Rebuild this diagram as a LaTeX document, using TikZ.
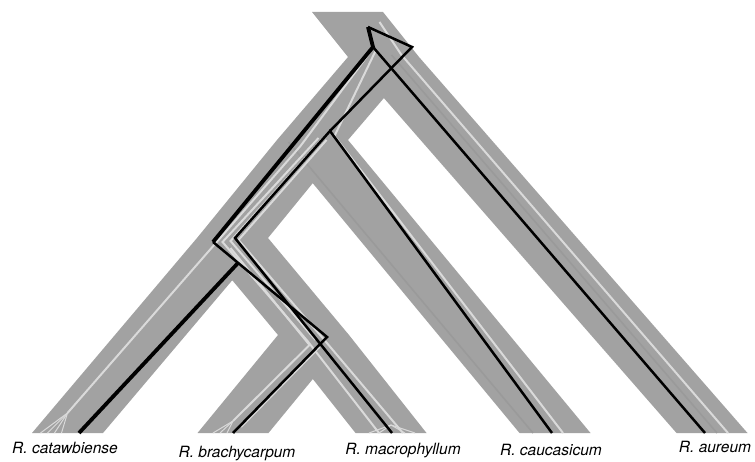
\documentclass[tikz,border=0pt]{standalone}
\usepackage{fontspec}
\newfontfamily\taxfont{TeX Gyre Heros}
\usetikzlibrary{calc}
\definecolor{bandgray}{HTML}{A2A2A2}
\definecolor{ghostgray}{HTML}{DADADA}
\definecolor{ghostdark}{HTML}{9A9A9A}

\begin{document}
\begin{tikzpicture}[x=1pt, y=-1pt,
  band/.style={fill=bandgray},
  ghost/.style={draw=ghostgray, line width=2pt},
  ghostfan/.style={draw=ghostgray, line width=1pt},
  shade/.style={draw=ghostdark, line width=1.6pt},
  gene/.style={draw=black, line width=2.5pt},
  genethick/.style={draw=black, line width=3.8pt},
  taxon/.style={font=\taxfont\itshape\fontsize{15.5}{18}\selectfont, anchor=base, inner sep=0pt}]
  \useasboundingbox (0,0) rectangle (755,462);

  % species tree nodes
  \coordinate (top) at (347.5,12);
  \coordinate (rt) at (383.5,57);
  \coordinate (nA) at (312.5,140);
  \coordinate (nB) at (232.5,238);
  \coordinate (nC) at (313.5,335);
  \coordinate (cat) at (67.5,433);
  \coordinate (bra) at (233,433);
  \coordinate (mac) at (391,433);
  \coordinate (cau) at (555,433);
  \coordinate (aur) at (712,433);

  % branches as wide bands
  \fill[band] \foreach \p/\c in {top/rt,rt/nA,rt/aur,nA/nB,nA/cau,nB/cat,nB/nC,nC/bra,nC/mac}
    { ($(\p)+(-35.5,0)$) -- ($(\p)+(35.5,0)$) -- ($(\c)+(35.5,0)$) -- ($(\c)+(-35.5,0)$) -- cycle };

  % other gene trees (faint)
  \draw[shade] ($(aur)+(5,0)$) -- ($(rt)+(8,-2)$);
  \draw[shade] ($(cau)+(-22,0)$) -- ($(nA)+(-24,2)$);
  \draw[ghost] ($(aur)+(16,0)$) -- ($(rt)+(18,-2)$) -- ($(top)+(32,10)$);
  \draw[ghost] ($(cau)+(8,0)$) -- ($(nA)+(22,-4)$) -- ($(rt)+(-8,-6)$);
  \draw[ghost] ($(cat)+(0,-20)$) -- ($(nA)+(-12,6)$) -- ($(rt)+(-14,-4)$);
  \draw[ghost] ($(nA)+(6,-2)$) -- ($(nB)+(-10,4)$) -- ($(nC)+(-6,6)$) -- ($(mac)+(-12,0)$);
  \draw[ghost] ($(nA)+(14,0)$) -- ($(nB)+(6,2)$) -- ($(nC)+(10,4)$) -- ($(mac)+(12,0)$);
  \draw[ghost] ($(nA)+(10,-1)$) -- ($(nB)+(-2,3)$) -- ($(nC)+(2,5)$);
  \draw[ghost] ($(bra)+(0,-12)$) -- ($(nC)+(-4,10)$) -- ($(nB)+(-2,10)$);
  \draw[ghost] ($(bra)+(8,-6)$) -- ($(nC)+(6,12)$);
  \foreach \dx in {-27,-20,-13,-6}
    \draw[ghostfan] ($(cat)+(0,-20)$) -- ($(cat)+(\dx,0)$);
  \foreach \dx in {-20,-13,-6}
    \draw[ghostfan] ($(bra)+(0,-12)$) -- ($(bra)+(\dx,0)$);
  \foreach \dx in {-22,-12,14,24}
    \draw[ghostfan] ($(mac)+(0,-8)$) -- ($(mac)+(\dx,0)$);

  % gene tree (black)
  \coordinate (g0) at (368,27);
  \coordinate (g1) at (412,47);
  \coordinate (g2) at (373,47);
  \coordinate (g3) at (330,131);
  \coordinate (g4) at (213,242);
  \coordinate (g5) at (235,238);
  \coordinate (g6) at (327,337);
  \coordinate (g7) at (238,263);
  \coordinate (tcat) at (79,433);
  \coordinate (tbra) at (233,433);
  \coordinate (tmac) at (392,433);
  \coordinate (tcau) at (552,433);
  \coordinate (taur) at (705,433);

  \draw[gene] (taur) -- (g2);
  \draw[gene] (g0) -- (g1) -- (g3);
  \draw[genethick] (g0) -- (g2) -- (g4);
  \draw[gene] (g4) -- (g6) -- (tbra);
  \draw[genethick] (tcat) -- (g7);
  \draw[gene] (tcau) -- (g3) -- (g5) -- (tmac);

  % taxa
  \node[taxon] (lcat) at (65,453) {R. catawbiense};
  \node[taxon] (lbra) at (237,457) {R. brachycarpum};
  \node[taxon] (lmac) at (403,454) {R. macrophyllum};
  \node[taxon] (lcau) at (551,455) {R. caucasicum};
  \node[taxon] (laur) at (715,452) {R. aureum};
\end{tikzpicture}
\end{document}
